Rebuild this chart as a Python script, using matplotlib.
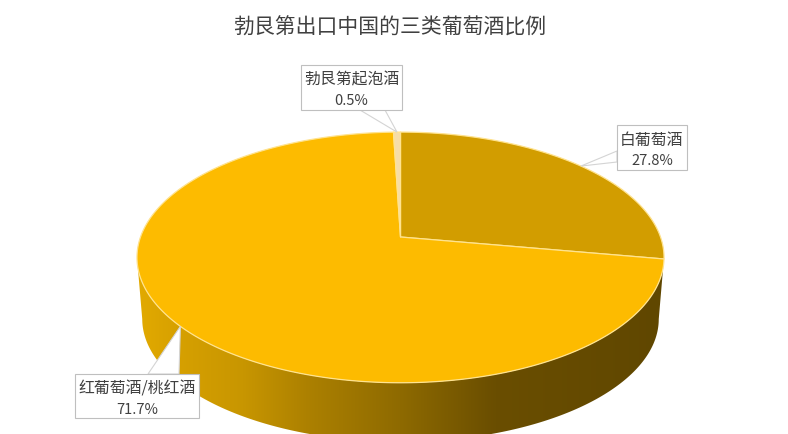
import numpy as np
import matplotlib
matplotlib.use('Agg')
import matplotlib.pyplot as plt
from matplotlib.colors import LinearSegmentedColormap
from matplotlib.patches import Polygon, Rectangle

plt.rcParams['font.family'] = ['Noto Sans CJK SC', 'DejaVu Sans']

TITLE = '勃艮第出口中国的三类葡萄酒比例'
categories = ['白葡萄酒', '红葡萄酒/桃红酒', '勃艮第起泡酒']
shares = [27.8, 71.7, 0.5]
colors = ['#D29D00', '#FDBB00', '#F6DDA8']
# label boxes: left, top, right, bottom in pixels, then where the callout meets the box
boxes = [(617, 126, 687, 171), (75, 375, 199, 419), (301, 66, 402, 111)]
bases = [((617, 152), (617, 163)), ((148, 375), (179, 375)), ((360, 111), (385, 111))]

RIM = '#FFE38F'
TEXT = '#404040'
APEX_X, APEX_Y = 400.5, 238
DEPTH = 62


def project(theta, r=1.0, scale=1.0, dy=0):
    # tilted circle with perspective, theta is clockwise from the top, in degrees
    t = np.radians(theta)
    xs, ys = r * np.sin(t), r * np.cos(t)
    w = 1 + 0.163 * ys
    return APEX_X + scale * 260 * xs / w, APEX_Y + dy - scale * 122 * ys / w


fig = plt.figure(figsize=(7.88, 4.35), dpi=100)
ax = fig.add_axes([0, 0, 1, 1])

# side wall, gradient running left to right
wall = LinearSegmentedColormap.from_list('wall', [
    (0.00, '#E2AA00'), (0.08, '#D6A000'), (0.20, '#C89600'), (0.32, '#AD8100'),
    (0.50, '#8E6A00'), (0.68, '#6A4E00'), (1.00, '#604700')])
front = np.linspace(99.4, 260.6, 200)
top_x, top_y = project(front)
low_x, low_y = project(front, scale=0.98, dy=DEPTH)
outline = np.column_stack([np.r_[top_x, low_x[::-1]], np.r_[top_y, low_y[::-1]]])
im = ax.imshow(np.linspace(0, 1, 256).reshape(1, -1), cmap=wall, aspect='auto',
               extent=(137, 664, 460, 230), zorder=1)
im.set_clip_path(Polygon(outline, closed=True, transform=ax.transData))

# top face, one wedge per category
start = 0
tips = []
for share, color in zip(shares, colors):
    end = start + share * 3.6
    arc = np.linspace(start, end, max(int(share * 4), 8))
    x, y = project(arc)
    ax.fill(np.r_[APEX_X, x], np.r_[APEX_Y, y], facecolor=color, edgecolor=RIM,
            linewidth=0.9, joinstyle='round', zorder=2)
    tips.append(project((start + end) / 2))
    start = end

# labels with callouts
for name, share, box, base, tip in zip(categories, shares, boxes, bases, tips):
    left, top, right, bottom = box
    ax.add_patch(Polygon([base[0], tip, base[1]], closed=True, facecolor='white',
                         edgecolor='#D4D4D4', linewidth=0.8, zorder=3))
    ax.add_patch(Rectangle((left, top), right - left, bottom - top, facecolor='white',
                           edgecolor='#BFBFBF', linewidth=0.8, zorder=4))
    cx = (left + right) / 2
    ax.text(cx, top + 14, name, ha='center', va='center', fontsize=11.4, color=TEXT, zorder=5)
    ax.text(cx, top + 35, f'{share}%', ha='center', va='center', fontsize=10.5, color=TEXT, zorder=5)

ax.text(390, 28, TITLE, ha='center', va='center', fontsize=15, color=TEXT, zorder=5)

ax.set_xlim(0, 788)
ax.set_ylim(435, 0)
ax.axis('off')

fig.savefig('out.png', dpi=100, facecolor='white')
